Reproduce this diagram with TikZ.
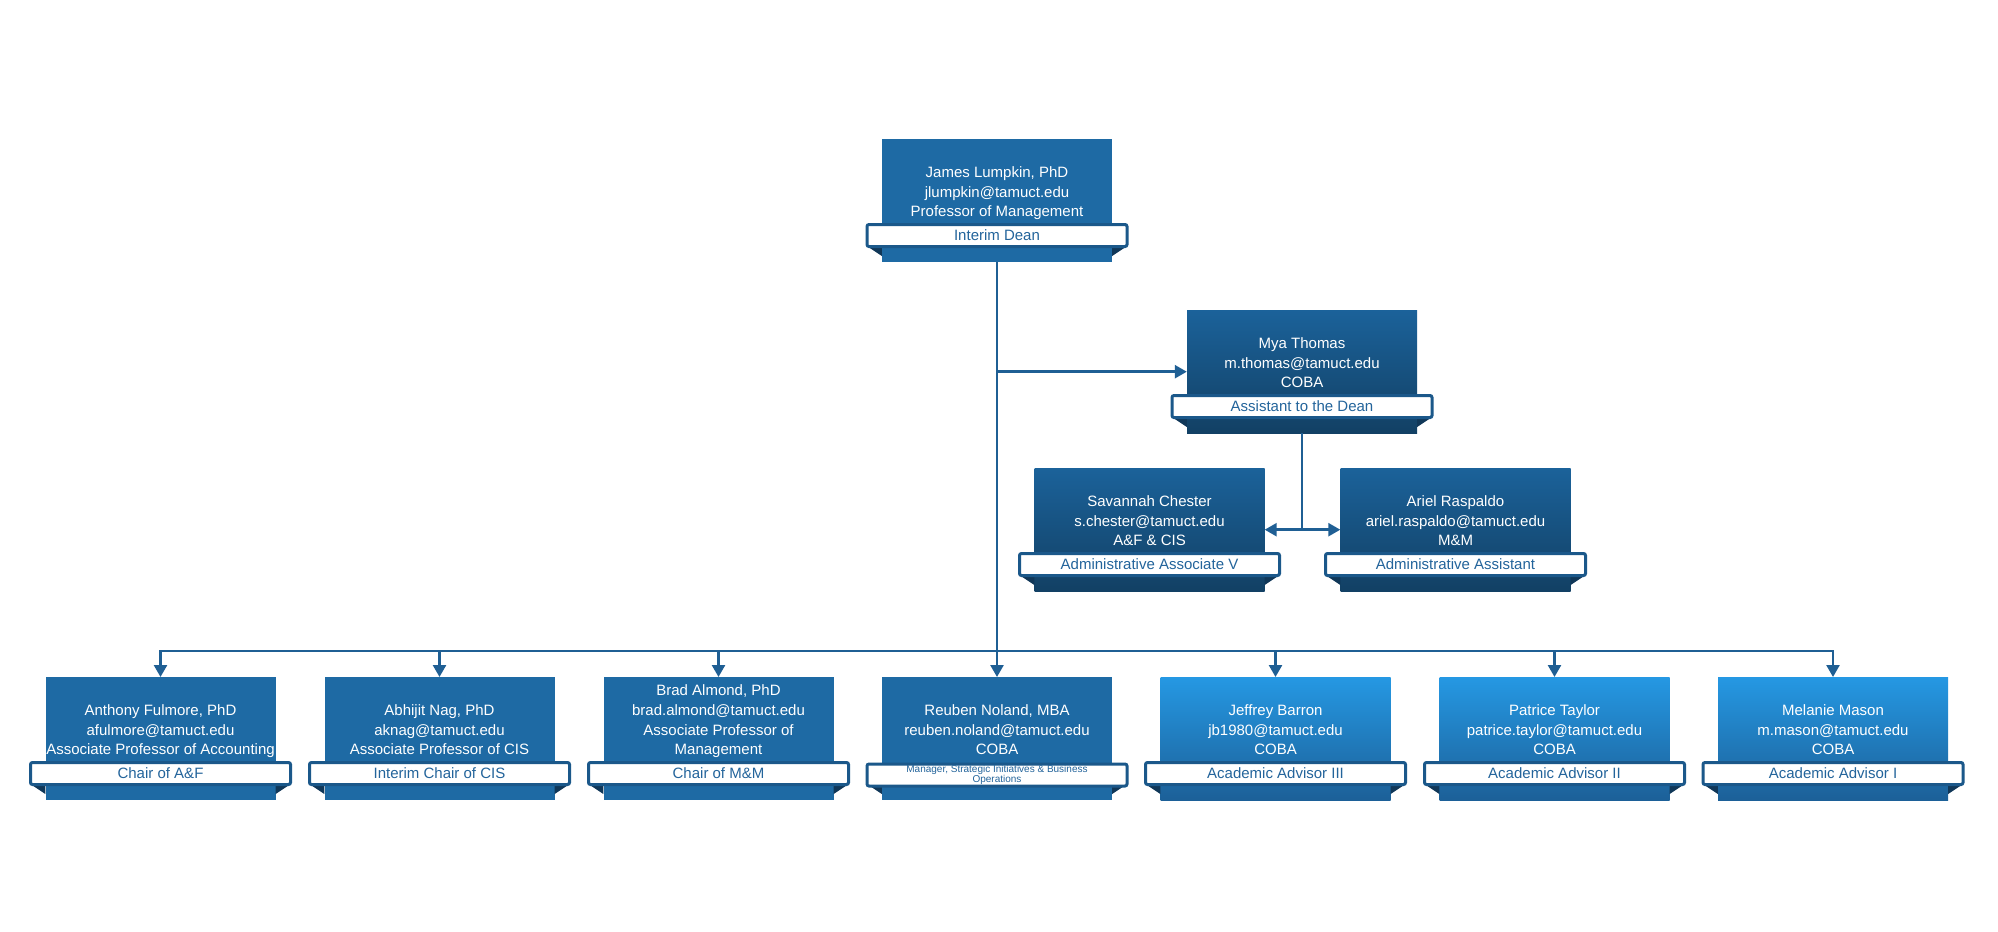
\documentclass[tikz,border=0pt]{standalone}
\usepackage{fontspec}
\setmainfont{Liberation Sans}
\usetikzlibrary{arrows.meta,calc}
\definecolor{flatc}{RGB}{30,106,164}
\definecolor{dtop}{RGB}{27,98,154}
\definecolor{dbot}{RGB}{18,64,100}
\definecolor{ltop}{RGB}{37,152,227}
\definecolor{lbot}{RGB}{28,96,152}
\definecolor{foldc}{RGB}{16,55,88}
\definecolor{ribc}{RGB}{27,88,138}
\definecolor{ribtxt}{RGB}{35,100,155}
\definecolor{linec}{RGB}{31,95,148}
\tikzset{
 orgbase/.style={rectangle, minimum width=230pt, minimum height=123pt, inner sep=0pt, anchor=north, draw=none},
 flatbox/.style={orgbase, fill=flatc},
 darkbox/.style={orgbase, top color=dtop, bottom color=dbot},
 lightbox/.style={orgbase, top color=ltop, bottom color=lbot},
 ribbon/.style={rectangle, draw=ribc, line width=3pt, fill=white, rounded corners=2pt, minimum width=260pt, minimum height=22pt, inner sep=0pt, text=ribtxt, align=center, font=\fontsize{15}{18}\selectfont},
 nametext/.style={text=white, align=center, anchor=south, inner sep=0pt, text depth=4pt, font=\fontsize{15}{19.8}\selectfont},
 conn/.style={draw=linec, line width=2.5pt},
 arr/.style={-{Triangle[length=12pt,width=13pt]}},
 darr/.style={{Triangle[length=12pt,width=13pt]}-{Triangle[length=12pt,width=13pt]}},
}
\newcommand\OrgBox[7]{%
 \node[#4] (#1) at (#2,#3) {};
 \fill[foldc] ($(#1.north west)+(-15,107)$) -- ($(#1.north west)+(0,107)$) -- ($(#1.north west)+(0,117)$) -- cycle;
 \fill[foldc] ($(#1.north east)+(15,107)$) -- ($(#1.north east)+(0,107)$) -- ($(#1.north east)+(0,117)$) -- cycle;
 \node[ribbon,#7] (#1r) at ($(#1.north)+(0,96.5)$) {#6};
 \node[nametext] (#1t) at ($(#1.north)+(0,82)$) {#5};
}
\begin{document}
\begin{tikzpicture}[x=1pt,y=-1pt]
\useasboundingbox (0,0) rectangle (1998,932);
\fill[white] (0,0) rectangle (1998,932);

\OrgBox{lump}{997}{139}{flatbox}{James Lumpkin, PhD\\jlumpkin@tamuct.edu\\Professor of Management}{Interim Dean}{}
\OrgBox{mya}{1302}{310}{darkbox}{Mya Thomas\\m.thomas@tamuct.edu\\COBA}{Assistant to the Dean}{}
\OrgBox{sav}{1149.5}{468}{darkbox}{Savannah Chester\\s.chester@tamuct.edu\\A\&F \& CIS}{Administrative Associate V}{}
\OrgBox{ari}{1455.5}{468}{darkbox}{Ariel Raspaldo\\ariel.raspaldo@tamuct.edu\\M\&M}{Administrative Assistant}{}

\OrgBox{anth}{160.5}{677}{flatbox}{Anthony Fulmore, PhD\\afulmore@tamuct.edu\\Associate Professor of Accounting}{Chair of A\&F}{}
\OrgBox{abhi}{439.5}{677}{flatbox}{Abhijit Nag, PhD\\aknag@tamuct.edu\\Associate Professor of CIS}{Interim Chair of CIS}{}
\OrgBox{brad}{718.5}{677}{flatbox}{Brad Almond, PhD\\brad.almond@tamuct.edu\\Associate Professor of\\Management}{Chair of M\&M}{}
\OrgBox{reub}{997}{677}{flatbox}{Reuben Noland, MBA\\reuben.noland@tamuct.edu\\COBA}{Manager, Strategic Initiatives \& Business\\Operations}{font=\fontsize{10}{10.5}\selectfont, yshift=-1.5pt}
\OrgBox{jeff}{1275.5}{677}{lightbox}{Jeffrey Barron\\jb1980@tamuct.edu\\COBA}{Academic Advisor III}{}
\OrgBox{patr}{1554.5}{677}{lightbox}{Patrice Taylor\\patrice.taylor@tamuct.edu\\COBA}{Academic Advisor II}{}
\OrgBox{mela}{1833}{677}{lightbox}{Melanie Mason\\m.mason@tamuct.edu\\COBA}{Academic Advisor I}{}

\draw[conn,arr] (lump.south) -- (reub.north);
\draw[conn,arr] (lump.south |- mya.west) -- (mya.west);
\draw[conn] (mya.south) -- (mya.south |- sav.east);
\draw[conn,darr] (sav.east) -- (ari.west);
\coordinate (bus) at (997,651);
\foreach \t in {anth,abhi,brad,jeff,patr,mela}{
 \draw[conn,arr] (bus) -| (\t.north);
}
\end{tikzpicture}
\end{document}
